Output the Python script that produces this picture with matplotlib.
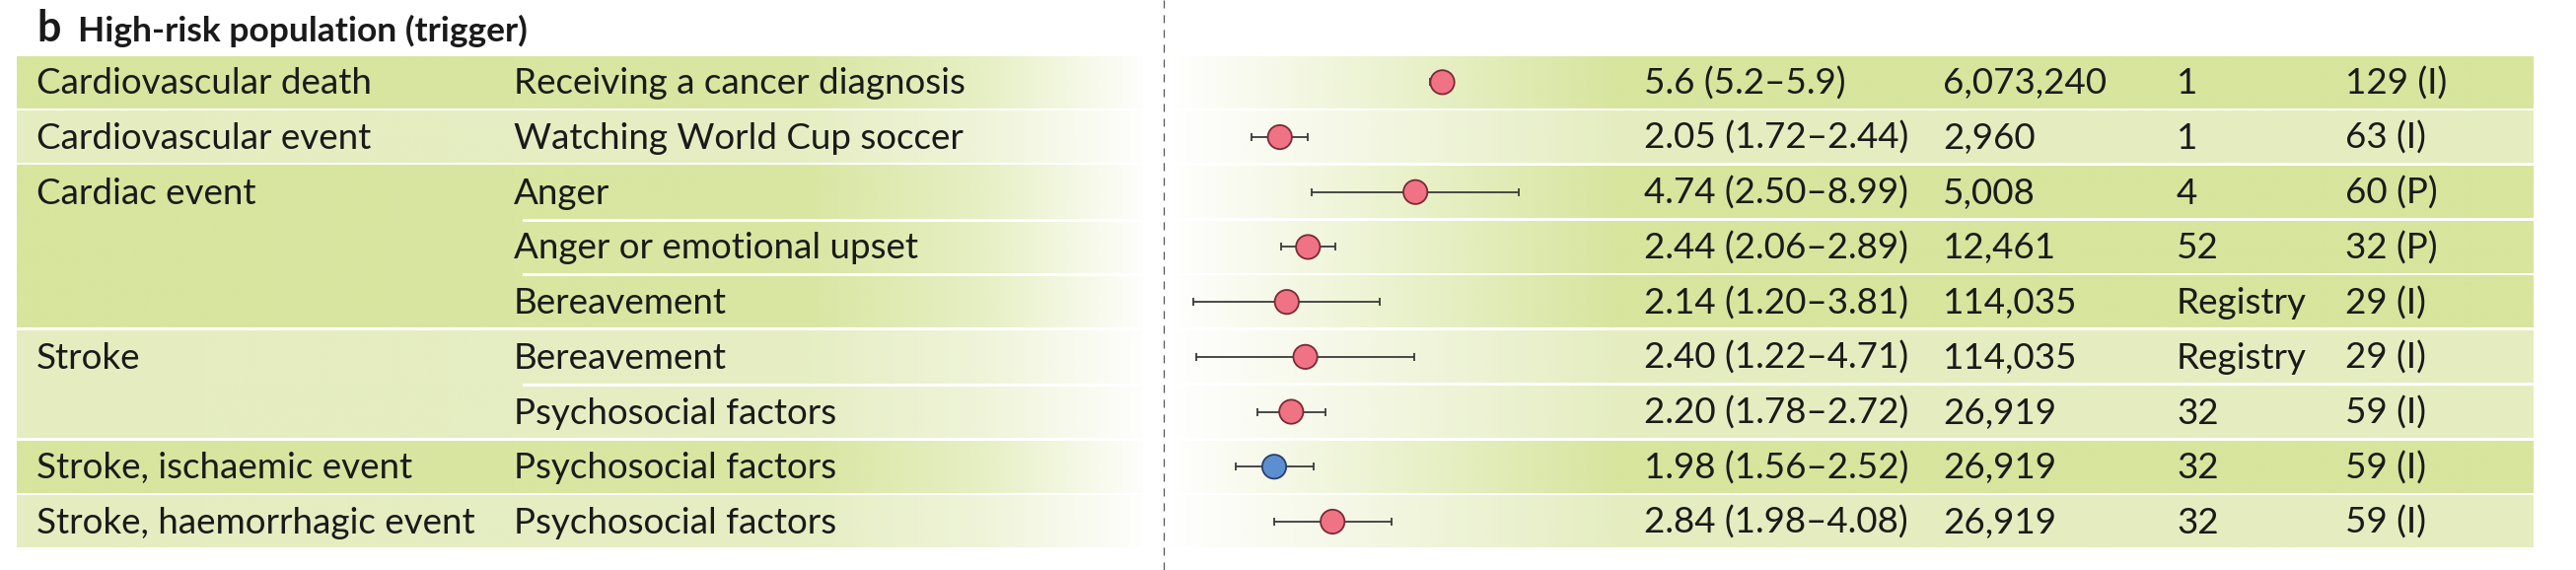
import matplotlib
matplotlib.use("Agg")
import matplotlib.pyplot as plt
import numpy as np

plt.rcParams['font.family'] = ['Lato', 'DejaVu Sans']

# ---- data ----
outcomes = ['Cardiovascular death', 'Cardiovascular event', 'Cardiac event',
            'Stroke', 'Stroke, ischaemic event', 'Stroke, haemorrhagic event']
group_sizes = [1, 1, 3, 2, 1, 1]
triggers = ['Receiving a cancer diagnosis', 'Watching World Cup soccer', 'Anger',
            'Anger or emotional upset', 'Bereavement', 'Bereavement',
            'Psychosocial factors', 'Psychosocial factors', 'Psychosocial factors']
rr = [5.6, 2.05, 4.74, 2.44, 2.14, 2.40, 2.20, 1.98, 2.84]
rr_lo = [5.2, 1.72, 2.50, 2.06, 1.20, 1.22, 1.78, 1.56, 1.98]
rr_hi = [5.9, 2.44, 8.99, 2.89, 3.81, 4.71, 2.72, 2.52, 4.08]
rr_text = ['5.6 (5.2–5.9)', '2.05 (1.72–2.44)', '4.74 (2.50–8.99)', '2.44 (2.06–2.89)',
           '2.14 (1.20–3.81)', '2.40 (1.22–4.71)', '2.20 (1.78–2.72)', '1.98 (1.56–2.52)',
           '2.84 (1.98–4.08)']
participants = ['6,073,240', '2,960', '5,008', '12,461', '114,035', '114,035',
                '26,919', '26,919', '26,919']
studies = ['1', '1', '4', '52', 'Registry', 'Registry', '32', '32', '32']
refs = ['129 (I)', '63 (I)', '60 (P)', '32 (P)', '29 (I)', '29 (I)', '59 (I)', '59 (I)', '59 (I)']
highlight = [False, False, False, False, False, False, False, True, False]

# ---- layout (pixels) ----
W, H = 2612, 578
ROW_TOP, ROW_H, GAP = 57, 55.7, 3
X_ONE, PX_PER_LN = 1180, 164
FS = 26.5
TXT = '#1a1a1a'
dark = np.array([215, 229, 157]) / 255
light = np.array([229, 237, 192]) / 255

fig = plt.figure(figsize=(W / 100, H / 100), dpi=100)
ax = fig.add_axes([0, 0, 1, 1])
ax.set_xlim(0, W)
ax.set_ylim(H, 0)
ax.axis('off')


def band(x0, x1, y0, y1, color, kx, ka):
    xs = np.linspace(x0, x1, 400)
    img = np.zeros((1, 400, 4))
    img[..., :3] = color
    img[0, :, 3] = np.interp(xs, kx, ka)
    ax.imshow(img, extent=[x0, x1, y1, y0], aspect='auto', interpolation='bilinear', zorder=0)


n = len(triggers)
row = 0
for g, size in enumerate(group_sizes):
    col = dark if g % 2 == 0 else light
    top = ROW_TOP + row * ROW_H
    bot = ROW_TOP + (row + size) * ROW_H - GAP
    band(17, 1158, top, bot, col, [17, 820, 1000, 1158], [1, 0.95, 0.6, 0.04])
    for k in range(1, size):
        yb = ROW_TOP + (row + k) * ROW_H - GAP / 2
        ax.plot([531, 1158], [yb, yb], color='white', lw=GAP * 0.72, zorder=1)
    for k in range(size):
        rt = ROW_TOP + (row + k) * ROW_H
        band(1183, 2569, rt, rt + ROW_H - GAP, col, [1183, 1640, 2569], [0, 1, 1])
    ax.text(37, top + ROW_H / 2 - 1.5 + 12, outcomes[g], fontsize=FS, va='baseline', color=TXT)
    row += size

for i in range(n):
    yb = ROW_TOP + (i + 0.5) * ROW_H - 1.5 + 12
    ax.text(521, yb, triggers[i], fontsize=FS, va='baseline', color=TXT)
    ax.text(1667, yb, rr_text[i], fontsize=FS, va='baseline', color=TXT)
    ax.text(1970, yb, participants[i], fontsize=FS, va='baseline', color=TXT)
    ax.text(2207, yb, studies[i], fontsize=FS, va='baseline', color=TXT)
    ax.text(2378, yb, refs[i], fontsize=FS, va='baseline', color=TXT)

ax.text(37, 42, 'b', fontsize=31, fontweight='bold', va='baseline', color=TXT)
ax.text(79, 42, 'High-risk population (trigger)', fontsize=25.5, fontweight='bold',
        va='baseline', color=TXT)

# ---- forest plot ----
f_top = ROW_TOP - 1.5
f_bot = ROW_TOP + n * ROW_H - 1.5
fw = PX_PER_LN * np.log(10)
axf = fig.add_axes([X_ONE / W, (H - f_bot) / H, fw / W, (f_bot - f_top) / H])
axf.set_xscale('log')
axf.set_xlim(1, 10)
axf.set_ylim(n - 0.5, -0.5)
axf.patch.set_alpha(0)
axf.axis('off')

y = np.arange(n)
x = np.array(rr)
xerr = [x - np.array(rr_lo), np.array(rr_hi) - x]
axf.errorbar(x, y, xerr=xerr, fmt='none', ecolor='#3a3a3a', elinewidth=1.3,
             capsize=3.2, capthick=1.3, zorder=2, clip_on=False)
face = ['#5b8fd0' if h else '#ef7384' for h in highlight]
edge = ['#2b3f6b' if h else '#7a2a35' for h in highlight]
axf.scatter(x, y, s=17.5 ** 2, c=face, edgecolors=edge, linewidths=1.3, zorder=3, clip_on=False)

axf.axvline(1, ymin=-(H - f_bot) / (f_bot - f_top), ymax=f_bot / (f_bot - f_top),
            color='#555555', lw=0.9, dashes=(6.5, 5.5), clip_on=False)

fig.savefig('out.png', dpi=100)
